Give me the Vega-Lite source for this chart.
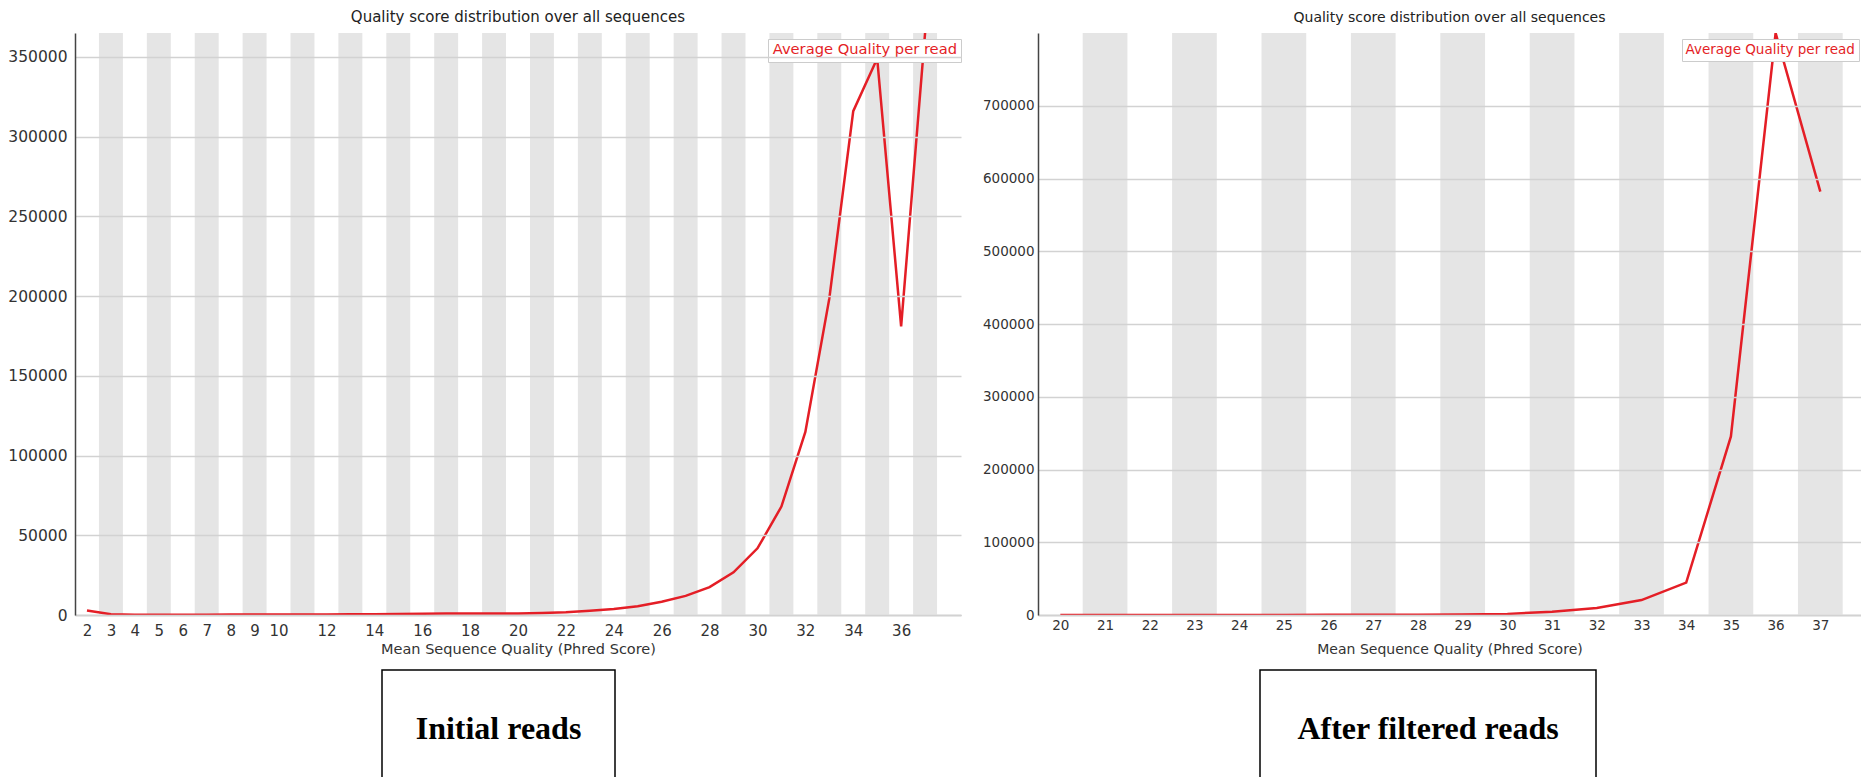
{
  "$schema": "https://vega.github.io/schema/vega-lite/v6.json",
  "padding": {"left": 7, "top": 10, "right": 0, "bottom": 0},
  "background": "white",
  "spacing": 12,
  "config": {
    "view": {"stroke": null},
    "font": "DejaVu Sans",
    "axis": {"labelFont": "DejaVu Sans", "titleFont": "DejaVu Sans", "labelColor": "#333", "titleColor": "#333", "titleFontWeight": "normal", "ticks": false},
    "title": {"font": "DejaVu Sans", "fontWeight": "normal", "color": "#222", "offset": 8}
  },
  "datasets": {
    "left": [
      {"q": 2, "v": 2800}, {"q": 3, "v": 500}, {"q": 4, "v": 200}, {"q": 5, "v": 200}, {"q": 6, "v": 200},
      {"q": 7, "v": 200}, {"q": 8, "v": 250}, {"q": 9, "v": 250}, {"q": 10, "v": 300}, {"q": 11, "v": 300},
      {"q": 12, "v": 350}, {"q": 13, "v": 400}, {"q": 14, "v": 450}, {"q": 15, "v": 600}, {"q": 16, "v": 800},
      {"q": 17, "v": 900}, {"q": 18, "v": 950}, {"q": 19, "v": 1000}, {"q": 20, "v": 1000}, {"q": 21, "v": 1300},
      {"q": 22, "v": 1800}, {"q": 23, "v": 2700}, {"q": 24, "v": 3800}, {"q": 25, "v": 5500}, {"q": 26, "v": 8300},
      {"q": 27, "v": 12000}, {"q": 28, "v": 17500}, {"q": 29, "v": 26800}, {"q": 30, "v": 41800}, {"q": 31, "v": 68000},
      {"q": 32, "v": 114800}, {"q": 33, "v": 198400}, {"q": 34, "v": 316000}, {"q": 35, "v": 349000}, {"q": 36, "v": 181000},
      {"q": 37, "v": 365000}
    ],
    "right": [
      {"q": 20, "v": 100}, {"q": 21, "v": 100}, {"q": 22, "v": 120}, {"q": 23, "v": 130}, {"q": 24, "v": 150},
      {"q": 25, "v": 170}, {"q": 26, "v": 200}, {"q": 27, "v": 250}, {"q": 28, "v": 300}, {"q": 29, "v": 600},
      {"q": 30, "v": 1500}, {"q": 31, "v": 4500}, {"q": 32, "v": 9500}, {"q": 33, "v": 20500}, {"q": 34, "v": 44500},
      {"q": 35, "v": 245500}, {"q": 36, "v": 800000}, {"q": 37, "v": 582000}
    ],
    "leftStripes": [
      {"q": 2.5, "q2": 3.5}, {"q": 4.5, "q2": 5.5}, {"q": 6.5, "q2": 7.5}, {"q": 8.5, "q2": 9.5}, {"q": 10.5, "q2": 11.5},
      {"q": 12.5, "q2": 13.5}, {"q": 14.5, "q2": 15.5}, {"q": 16.5, "q2": 17.5}, {"q": 18.5, "q2": 19.5}, {"q": 20.5, "q2": 21.5},
      {"q": 22.5, "q2": 23.5}, {"q": 24.5, "q2": 25.5}, {"q": 26.5, "q2": 27.5}, {"q": 28.5, "q2": 29.5}, {"q": 30.5, "q2": 31.5},
      {"q": 32.5, "q2": 33.5}, {"q": 34.5, "q2": 35.5}, {"q": 36.5, "q2": 37.5}
    ],
    "rightStripes": [
      {"q": 20.5, "q2": 21.5}, {"q": 22.5, "q2": 23.5}, {"q": 24.5, "q2": 25.5}, {"q": 26.5, "q2": 27.5}, {"q": 28.5, "q2": 29.5},
      {"q": 30.5, "q2": 31.5}, {"q": 32.5, "q2": 33.5}, {"q": 34.5, "q2": 35.5}, {"q": 36.5, "q2": 37.5}
    ]
  },
  "vconcat": [
    {
      "bounds": "flush",
      "spacing": 77,
      "hconcat": [
        {
          "width": 886,
          "height": 582,
          "title": {"text": "Quality score distribution over all sequences", "fontSize": 15},
          "encoding": {
            "x": {
              "field": "q", "type": "quantitative",
              "scale": {"domain": [1.5, 38.5], "nice": false, "zero": false},
              "axis": {
                "values": [2, 3, 4, 5, 6, 7, 8, 9, 10, 12, 14, 16, 18, 20, 22, 24, 26, 28, 30, 32, 34, 36],
                "format": "d", "title": "Mean Sequence Quality (Phred Score)",
                "labelFontSize": 15, "titleFontSize": 14.5, "labelPadding": 8, "titlePadding": 4,
                "domainColor": "#bbbbbb", "domainWidth": 1.5, "grid": false
              }
            }
          },
          "layer": [
            {
              "data": {"name": "leftStripes"},
              "mark": {"type": "rect", "color": "#e5e5e5"},
              "encoding": {"x2": {"field": "q2"}}
            },
            {
              "data": {"name": "left"},
              "mark": {"type": "line", "strokeWidth": 2.5, "clip": true},
              "encoding": {
                "y": {
                  "field": "v", "type": "quantitative",
                  "scale": {"domain": [0, 365000], "nice": false},
                  "axis": {
                    "values": [0, 50000, 100000, 150000, 200000, 250000, 300000, 350000],
                    "format": "d", "title": null, "labelFontSize": 15.5, "labelPadding": 8,
                    "domainColor": "#444444", "domainWidth": 1.5,
                    "grid": true, "gridColor": "#d2d2d2", "gridWidth": 1.5, "zindex": 1
                  }
                },
                "color": {
                  "datum": "Average Quality per read",
                  "scale": {"range": ["#e41e26"]},
                  "legend": {
                    "title": null, "orient": "none", "legendX": 693, "legendY": 6,
                    "labelColor": "#e41e26", "labelFontSize": 14.7, "labelFont": "DejaVu Sans", "labelLimit": 0,
                    "symbolSize": 0, "symbolStrokeWidth": 0, "labelOffset": -14,
                    "padding": 4, "fillColor": "white", "strokeColor": "#cccccc"
                  }
                }
              }
            }
          ]
        },
        {
          "width": 823,
          "height": 582,
          "title": {"text": "Quality score distribution over all sequences", "fontSize": 14},
          "encoding": {
            "x": {
              "field": "q", "type": "quantitative",
              "scale": {"domain": [19.5, 37.91], "nice": false, "zero": false},
              "axis": {
                "values": [20, 21, 22, 23, 24, 25, 26, 27, 28, 29, 30, 31, 32, 33, 34, 35, 36, 37],
                "format": "d", "title": "Mean Sequence Quality (Phred Score)",
                "labelFontSize": 13.5, "titleFontSize": 14, "labelPadding": 3, "titlePadding": 11,
                "domainColor": "#bbbbbb", "domainWidth": 1.5, "grid": false
              }
            }
          },
          "layer": [
            {
              "data": {"name": "rightStripes"},
              "mark": {"type": "rect", "color": "#e5e5e5"},
              "encoding": {"x2": {"field": "q2"}}
            },
            {
              "data": {"name": "right"},
              "mark": {"type": "line", "strokeWidth": 2.5, "clip": true},
              "encoding": {
                "y": {
                  "field": "v", "type": "quantitative",
                  "scale": {"domain": [0, 800000], "nice": false},
                  "axis": {
                    "values": [0, 100000, 200000, 300000, 400000, 500000, 600000, 700000],
                    "format": "d", "title": null, "labelFontSize": 13.5, "labelPadding": 4,
                    "domainColor": "#444444", "domainWidth": 1.5,
                    "grid": true, "gridColor": "#d2d2d2", "gridWidth": 1.5, "zindex": 1
                  }
                },
                "color": {
                  "datum": "Average Quality per read",
                  "scale": {"range": ["#e41e26"]},
                  "legend": {
                    "title": null, "orient": "none", "legendX": 644, "legendY": 6,
                    "labelColor": "#e41e26", "labelFontSize": 13.5, "labelFont": "DejaVu Sans", "labelLimit": 0,
                    "symbolSize": 0, "symbolStrokeWidth": 0, "labelOffset": -14,
                    "padding": 4, "fillColor": "white", "strokeColor": "#cccccc"
                  }
                }
              }
            }
          ],
          "resolve": {"scale": {"color": "independent"}}
        }
      ],
      "resolve": {"scale": {"color": "independent"}, "legend": {"color": "independent"}}
    },
    {
      "bounds": "flush",
      "spacing": 0,
      "hconcat": [
        {"width": 307, "height": 118, "data": {"values": []}, "mark": "point"},
        {
          "width": 233, "height": 118,
          "view": {"stroke": "black", "strokeWidth": 1.5, "fill": "white"},
          "data": {"values": [{"label": "Initial reads"}]},
          "mark": {"type": "text", "font": "Liberation Serif", "fontWeight": "bold", "fontSize": 32, "color": "black"},
          "encoding": {"text": {"field": "label"}}
        },
        {"width": 645, "height": 118, "data": {"values": []}, "mark": "point"},
        {
          "width": 336, "height": 118,
          "view": {"stroke": "black", "strokeWidth": 1.5, "fill": "white"},
          "data": {"values": [{"label": "After filtered reads"}]},
          "mark": {"type": "text", "font": "Liberation Serif", "fontWeight": "bold", "fontSize": 32, "color": "black"},
          "encoding": {"text": {"field": "label"}}
        }
      ]
    }
  ]
}
